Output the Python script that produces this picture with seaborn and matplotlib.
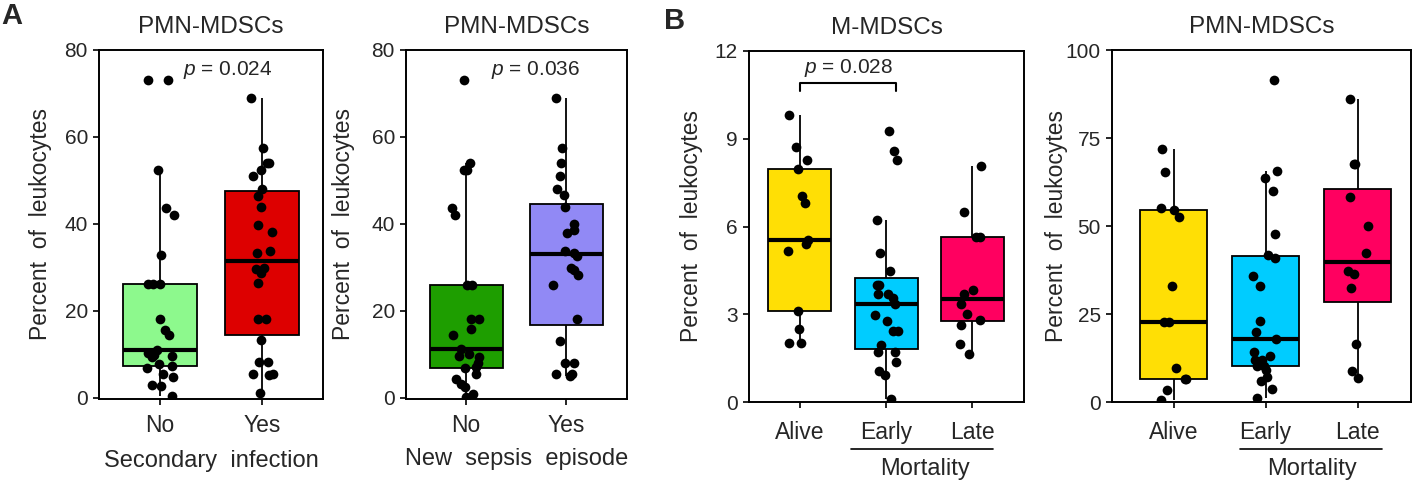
import numpy as np
import pandas as pd
import seaborn as sns
import matplotlib.pyplot as plt
import matplotlib.transforms as mtransforms

# percent of leukocytes
sec_no = [73.0, 73.0, 52.4, 43.6, 42.1, 32.8, 26.2, 26.2, 26.2, 18.1, 15.6, 14.5, 10.9,
          10.3, 9.9, 9.5, 9.3, 7.8, 7.2, 6.8, 5.5, 4.7, 3.0, 2.6, 0.3]
sec_yes = [68.9, 57.4, 54.0, 54.0, 52.4, 50.9, 48.0, 46.5, 43.9, 39.8, 38.1, 33.7, 33.2,
           29.9, 29.5, 28.6, 26.3, 18.2, 18.2, 13.2, 8.2, 8.2, 5.5, 5.5, 5.2, 1.1]
sep_no = [73.0, 54.0, 52.4, 52.4, 43.6, 42.1, 26.0, 26.0, 18.1, 18.1, 15.7, 14.5, 11.3,
          10.1, 9.6, 9.3, 7.9, 7.1, 6.9, 5.5, 4.4, 3.1, 2.5, 0.9, 0.2]
sep_yes = [68.9, 57.4, 54.0, 50.9, 48.0, 46.7, 43.9, 40.0, 38.5, 37.9, 33.7, 33.2, 32.7,
           29.9, 29.3, 28.3, 26.0, 18.1, 13.0, 8.0, 8.0, 5.4, 5.4, 5.0]

m_alive = [9.82, 8.72, 8.26, 7.98, 7.04, 6.80, 5.53, 5.41, 5.15, 3.11, 2.51, 2.02, 2.02]
m_early = [9.25, 8.57, 8.28, 6.21, 5.11, 4.48, 3.99, 3.99, 3.70, 3.70, 3.56, 3.34, 2.99,
           2.76, 2.42, 2.42, 1.94, 1.71, 1.71, 1.37, 1.05, 0.93, 0.11]
m_late = [8.06, 6.48, 5.64, 5.64, 3.82, 3.70, 3.34, 3.02, 2.81, 2.62, 1.99, 1.63]

p_alive = [71.8, 65.4, 55.0, 54.5, 52.6, 32.9, 22.6, 22.6, 9.8, 6.6, 6.6, 3.3, 0.5]
p_early = [91.5, 65.7, 63.5, 60.0, 47.7, 41.7, 41.0, 35.7, 32.9, 22.9, 19.9, 18.0, 14.2,
           13.0, 11.8, 11.8, 10.1, 10.1, 9.2, 7.1, 5.9, 3.8, 1.1]
p_late = [86.1, 67.5, 67.5, 58.1, 50.0, 42.2, 37.3, 36.5, 32.5, 16.4, 8.7, 6.9]

yn = ["No", "Yes"]
outcome = ["Alive", "Early", "Late"]

sns.set_style("ticks")
plt.rcParams["font.family"] = ["Liberation Sans", "DejaVu Sans"]
plt.rcParams["mathtext.fontset"] = "custom"
plt.rcParams["mathtext.it"] = "Liberation Sans:italic"
plt.rcParams["mathtext.rm"] = "Liberation Sans"

np.random.seed(7)

fig = plt.figure(figsize=(14.16, 4.84), dpi=100)


def panel(rect, groups, labels, colors, title, ylim, yticks, xlim, ylab_x):
    df = pd.DataFrame({"group": np.repeat(labels, [len(g) for g in groups]),
                       "value": np.concatenate(groups)})
    ax = fig.add_axes(rect)
    sns.boxplot(data=df, x="group", y="value", hue="group", order=labels,
                hue_order=labels, palette=colors, saturation=1, width=0.73,
                showfliers=False, linecolor="black", linewidth=1.3,
                medianprops={"linewidth": 3}, capprops={"visible": False},
                legend=False, ax=ax)
    sns.stripplot(data=df, x="group", y="value", order=labels, color="black",
                  size=7, jitter=0.14, zorder=5, ax=ax)
    ax.set_xlim(*xlim)
    ax.set_ylim(*ylim)
    ax.set_yticks(yticks)
    ax.set_title(title, fontsize=17.5, pad=12)
    ax.set_ylabel("Percent  of  leukocytes", fontsize=16.5)
    ax.yaxis.set_label_coords(ylab_x, 0.5)
    ax.set_xlabel("")
    ax.tick_params(axis="y", labelsize=15, length=4.5, width=1.2, color="black")
    ax.tick_params(axis="x", labelsize=16.5, length=4.5, width=1.2, color="black")
    for s in ax.spines.values():
        s.set_linewidth(1.4)
        s.set_color("black")
    return ax


bot = 1 - 399 / 484
h = 349 / 484

ax1 = panel([99 / 1416, bot, 224 / 1416, h], [sec_no, sec_yes], yn,
            ["#8DF98D", "#DD0000"], "PMN-MDSCs", (-0.3, 80), [0, 20, 40, 60, 80],
            (-0.6, 1.6), -0.21)
ax1.set_xlabel("Secondary  infection", fontsize=17)
ax1.xaxis.set_label_coords(0.5, -0.145)
ax1.tick_params(axis="x", pad=6.5)
ax1.text(0.66, 74.3, "$p$ = 0.024", fontsize=15, ha="center", va="baseline")

ax2 = panel([406 / 1416, bot, 221 / 1416, h], [sep_no, sep_yes], yn,
            ["#1E9E00", "#9189F5"], "PMN-MDSCs", (-0.3, 80), [0, 20, 40, 60, 80],
            (-0.6, 1.61), -0.23)
ax2.set_xlabel("New  sepsis  episode", fontsize=17)
ax2.xaxis.set_label_coords(0.5, -0.14)
ax2.tick_params(axis="x", pad=6.5)
ax2.text(0.7, 74.3, "$p$ = 0.036", fontsize=15, ha="center", va="baseline")

bot2 = 1 - 402 / 484
mort_cols = ["#FFDF05", "#00CCFF", "#FF0060"]

ax3 = panel([749 / 1416, bot2, 275 / 1416, 351 / 484], [m_alive, m_early, m_late],
            outcome, mort_cols, "M-MDSCs", (0, 12), [0, 3, 6, 9, 12],
            (-0.59, 2.6), -0.167)
ax3.tick_params(axis="x", pad=9.5)
ax3.plot([0, 0, 1.12, 1.12], [10.63, 10.9, 10.9, 10.63], color="black", lw=1.5)
ax3.text(0.57, 11.25, "$p$ = 0.028", fontsize=15, ha="center", va="baseline")

ax4 = panel([1112 / 1416, bot2, 299 / 1416, 352 / 484], [p_alive, p_early, p_late],
            outcome, mort_cols, "PMN-MDSCs", (0, 100), [0, 25, 50, 75, 100],
            (-0.67, 2.58), -0.147)
ax4.tick_params(axis="x", pad=9.5)

for ax, x0, x1, xm in [(ax3, 0.59, 2.24, 1.45), (ax4, 0.72, 2.26, 1.5)]:
    tr = mtransforms.blended_transform_factory(ax.transData, ax.transAxes)
    ax.plot([x0, x1], [-0.134, -0.134], color="black", lw=1.2, transform=tr,
            clip_on=False)
    ax.text(xm, -0.19, "Mortality", fontsize=17, ha="center", va="center",
            transform=tr)

fig.text(0.001, 0.995, "A", fontsize=21, fontweight="bold", va="top")
fig.text(0.469, 0.985, "B", fontsize=21, fontweight="bold", va="top")

fig.savefig("out.png", dpi=100)
